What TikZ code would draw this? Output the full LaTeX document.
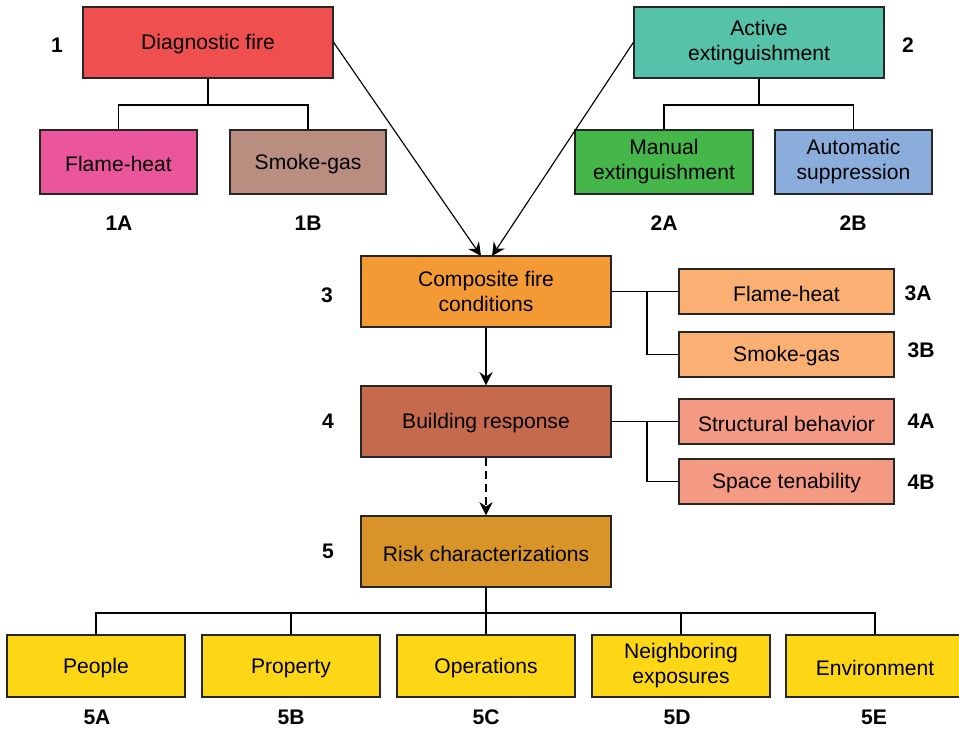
\documentclass[tikz,border=0pt]{standalone}
\usepackage{fontspec}
\setmainfont{Liberation Sans}
\usetikzlibrary{arrows.meta}

\definecolor{cDiag}{HTML}{F04F50}
\definecolor{cFlameA}{HTML}{EB559C}
\definecolor{cSmokeA}{HTML}{B98E80}
\definecolor{cActive}{HTML}{55C2A9}
\definecolor{cManual}{HTML}{45B64A}
\definecolor{cAuto}{HTML}{8AADDB}
\definecolor{cComp}{HTML}{F49A34}
\definecolor{cCompSub}{HTML}{F9B072}
\definecolor{cBuild}{HTML}{C66A4E}
\definecolor{cBuildSub}{HTML}{F59A82}
\definecolor{cRisk}{HTML}{D89428}
\definecolor{cRiskSub}{HTML}{FDD716}

\tikzset{
  box/.style 2 args={draw=black!85, line width=0.8pt, inner sep=0pt, align=center,
    minimum width=#1*0.02cm, minimum height=#2*0.02cm,
    font=\fontsize{12}{14.2}\selectfont,
    execute at begin node={\rule{0pt}{11pt}}},
  tag/.style={font=\fontsize{12}{14}\selectfont\bfseries, inner sep=0pt},
  link/.style={line width=0.65pt, black},
  arr/.style={link, -{Stealth[length=7.5pt,width=7.5pt,inset=2.5pt]}},
}

\begin{document}
\begin{tikzpicture}[x=0.02cm, y=-0.02cm]
\useasboundingbox (0,0) rectangle (959,732);

% top row
\node[box={250}{71}, fill=cDiag]   (b1)  at (208,42.5) {Diagnostic fire};
\node[box={250}{71}, fill=cActive] (b2)  at (759,42.5) {Active\\extinguishment};
\node[box={157}{64}, fill=cFlameA] (b1a) at (118.5,162) {Flame-heat};
\node[box={156}{64}, fill=cSmokeA] (b1b) at (308,162) {Smoke-gas};
\node[box={178}{64}, fill=cManual] (b2a) at (664,162) {Manual\\extinguishment};
\node[box={157}{64}, fill=cAuto]   (b2b) at (853.5,162) {Automatic\\suppression};

% middle column
\node[box={250}{71}, fill=cComp]  (b3) at (486,291.5) {Composite fire\\conditions};
\node[box={250}{71}, fill=cBuild] (b4) at (486,421.5) {Building response};
\node[box={250}{71}, fill=cRisk]  (b5) at (486,551.5) {Risk characterizations};

\node[box={215}{45}, fill=cCompSub]  (b3a) at (786.5,291.5) {Flame-heat};
\node[box={215}{45}, fill=cCompSub]  (b3b) at (786.5,354.5) {Smoke-gas};
\node[box={215}{45}, fill=cBuildSub] (b4a) at (786.5,421.5) {Structural behavior};
\node[box={215}{45}, fill=cBuildSub] (b4b) at (786.5,481.5) {Space tenability};

% bottom row
\node[box={178}{62}, fill=cRiskSub] (b5a) at (96,666)  {People};
\node[box={178}{62}, fill=cRiskSub] (b5b) at (291,666) {Property};
\node[box={178}{62}, fill=cRiskSub] (b5c) at (486,666) {Operations};
\node[box={178}{62}, fill=cRiskSub] (b5d) at (681,666) {Neighboring\\exposures};
\node[box={178}{62}, fill=cRiskSub] (b5e) at (875,666) {Environment};

% labels
\node[tag] (l1)  at (57,45)   {1};
\node[tag] (l2)  at (908,45)  {2};
\node[tag] (l1a) at (119,223) {1A};
\node[tag] (l1b) at (308,223) {1B};
\node[tag] (l2a) at (664,223) {2A};
\node[tag] (l2b) at (853,223) {2B};
\node[tag] (l3)  at (327,295) {3};
\node[tag] (l3a) at (918,293) {3A};
\node[tag] (l3b) at (921,350) {3B};
\node[tag] (l4)  at (328,421) {4};
\node[tag] (l4a) at (921,421) {4A};
\node[tag] (l4b) at (921,482) {4B};
\node[tag] (l5)  at (328,551) {5};
\node[tag] (l5a) at (97,717)  {5A};
\node[tag] (l5b) at (291,717) {5B};
\node[tag] (l5c) at (486,717) {5C};
\node[tag] (l5d) at (677,717) {5D};
\node[tag] (l5e) at (874,717) {5E};

% tree junctions
\coordinate (j1) at (208,105);
\coordinate (j2) at (759,105);
\coordinate (j5) at (486,613);
\coordinate (k3) at (647,291.5);
\coordinate (k4) at (647,421.5);
\coordinate (t1) at (481,256);
\coordinate (t2) at (492,256);

\draw[link] (b1.south) -- (j1);
\draw[link] (b1a.north) |- (j1) -| (b1b.north);
\draw[link] (b2.south) -- (j2);
\draw[link] (b2a.north) |- (j2) -| (b2b.north);

\draw[link] (b3.east) -- (b3a.west);
\draw[link] (k3) |- (b3b.west);
\draw[link] (b4.east) -- (b4a.west);
\draw[link] (k4) |- (b4b.west);

\draw[link] (b5.south) -- (b5c.north);
\draw[link] (b5a.north) |- (j5) -| (b5e.north);
\draw[link] (b5b.north) |- (j5);
\draw[link] (b5d.north) |- (j5);

% flow arrows
\draw[arr] (b1.east) -- (t1);
\draw[arr] (b2.west) -- (t2);
\draw[arr] (b3.south) -- (b4.north);
\draw[arr, dash pattern=on 4.5pt off 3pt] (b4.south) -- (b5.north);
\end{tikzpicture}
\end{document}
